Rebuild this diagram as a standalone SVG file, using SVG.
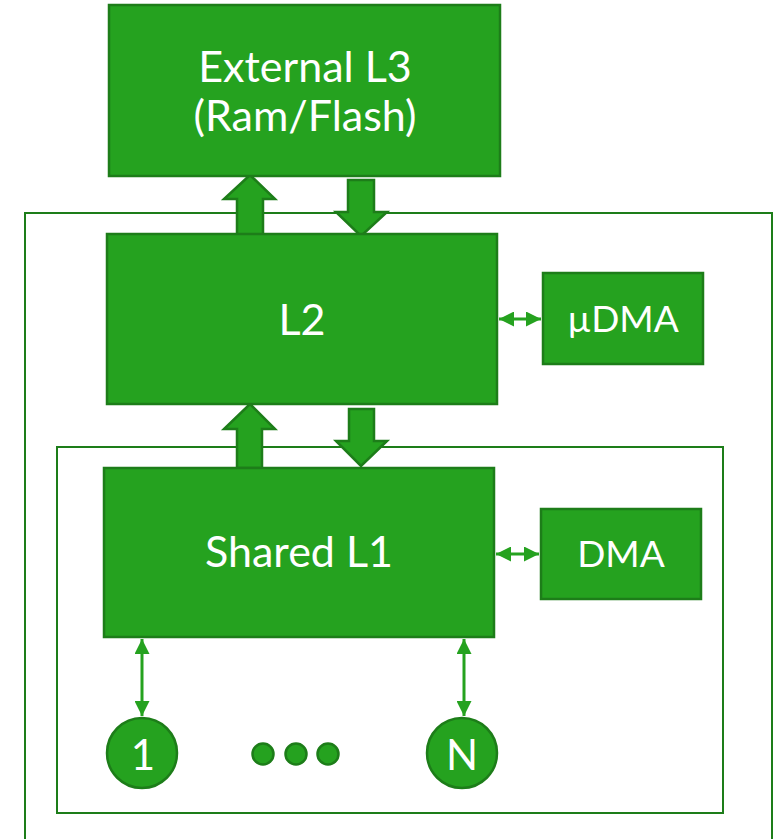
<svg xmlns="http://www.w3.org/2000/svg" width="780" height="839" viewBox="0 0 780 839">
  <style>
    .blk { fill: #25A21F; stroke: #1D7D19; stroke-width: 2.5; }
    .frame { fill: none; stroke: #1D7D19; stroke-width: 2; }
    .big { fill: #25A21F; stroke: #1D7D19; stroke-width: 2.5; stroke-linejoin: miter; }
    .lnk { stroke: #25A21F; stroke-width: 3; fill: none; }
    .lbl { font-family: Lato, "Liberation Sans", sans-serif; fill: #FFFFFF; text-anchor: middle; }
  </style>
  <defs>
    <marker id="tip" viewBox="0 0 10 10" refX="10" refY="5" markerWidth="5" markerHeight="5" orient="auto-start-reverse" markerUnits="strokeWidth">
      <path d="M0,0 L10,5 L0,10 z" fill="#25A21F"/>
    </marker>
  </defs>

  <rect width="780" height="839" fill="#FFFFFF"/>

  <!-- cluster frames -->
  <rect id="outer-frame" class="frame" x="25" y="213" width="747" height="640"/>
  <rect id="inner-frame" class="frame" x="57" y="447" width="666" height="366"/>

  <!-- connectors -->
  <g id="connectors">
    <!-- L3 <-> L2 block arrows -->
    <path class="big" d="M237,238 L237,199 L224,199 L250,175 L275,199 L263,199 L263,238 z"/>
    <path class="big" d="M348,180 L374,180 L374,212 L387,212 L361,236 L336,212 L348,212 z"/>
    <!-- L2 <-> Shared L1 block arrows -->
    <path class="big" d="M237,468 L237,429 L224,429 L250,404 L275,429 L262,429 L262,468 z"/>
    <path class="big" d="M349,409 L374,409 L374,441 L387,441 L361,466 L336,441 L349,441 z"/>
    <!-- side links -->
    <line class="lnk" x1="499" y1="319" x2="541" y2="319" marker-start="url(#tip)" marker-end="url(#tip)"/>
    <line class="lnk" x1="496" y1="554" x2="539" y2="554" marker-start="url(#tip)" marker-end="url(#tip)"/>
    <line class="lnk" x1="142" y1="639" x2="142" y2="716" marker-start="url(#tip)" marker-end="url(#tip)"/>
    <line class="lnk" x1="464" y1="639" x2="464" y2="716" marker-start="url(#tip)" marker-end="url(#tip)"/>
  </g>

  <g id="l3">
    <rect class="blk" x="109" y="5" width="391" height="171"/>
    <text class="lbl" x="305" y="82" font-size="43">External L3</text>
    <text class="lbl" x="305" y="131" font-size="43">(Ram/Flash)</text>
  </g>

  <g id="l2">
    <rect class="blk" x="107" y="234" width="390" height="170"/>
    <text class="lbl" x="302" y="335" font-size="43">L2</text>
  </g>

  <g id="udma">
    <rect class="blk" x="543" y="273" width="160" height="91"/>
    <text class="lbl" x="623" y="332" font-size="37">µDMA</text>
  </g>

  <g id="shared-l1">
    <rect class="blk" x="104" y="468" width="390" height="169"/>
    <text class="lbl" x="299" y="567" font-size="43">Shared L1</text>
  </g>

  <g id="dma">
    <rect class="blk" x="541" y="509" width="160" height="90"/>
    <text class="lbl" x="621" y="567" font-size="37">DMA</text>
  </g>

  <g id="core-1">
    <circle class="blk" cx="142" cy="753" r="35"/>
    <text class="lbl" x="143" y="770" font-size="42">1</text>
  </g>

  <g id="core-dots">
    <circle class="blk" cx="263" cy="754" r="10.5"/>
    <circle class="blk" cx="296" cy="754" r="10.5"/>
    <circle class="blk" cx="328" cy="754" r="10.5"/>
  </g>

  <g id="core-n">
    <circle class="blk" cx="462" cy="753" r="35"/>
    <text class="lbl" x="462" y="770" font-size="42">N</text>
  </g>
</svg>
